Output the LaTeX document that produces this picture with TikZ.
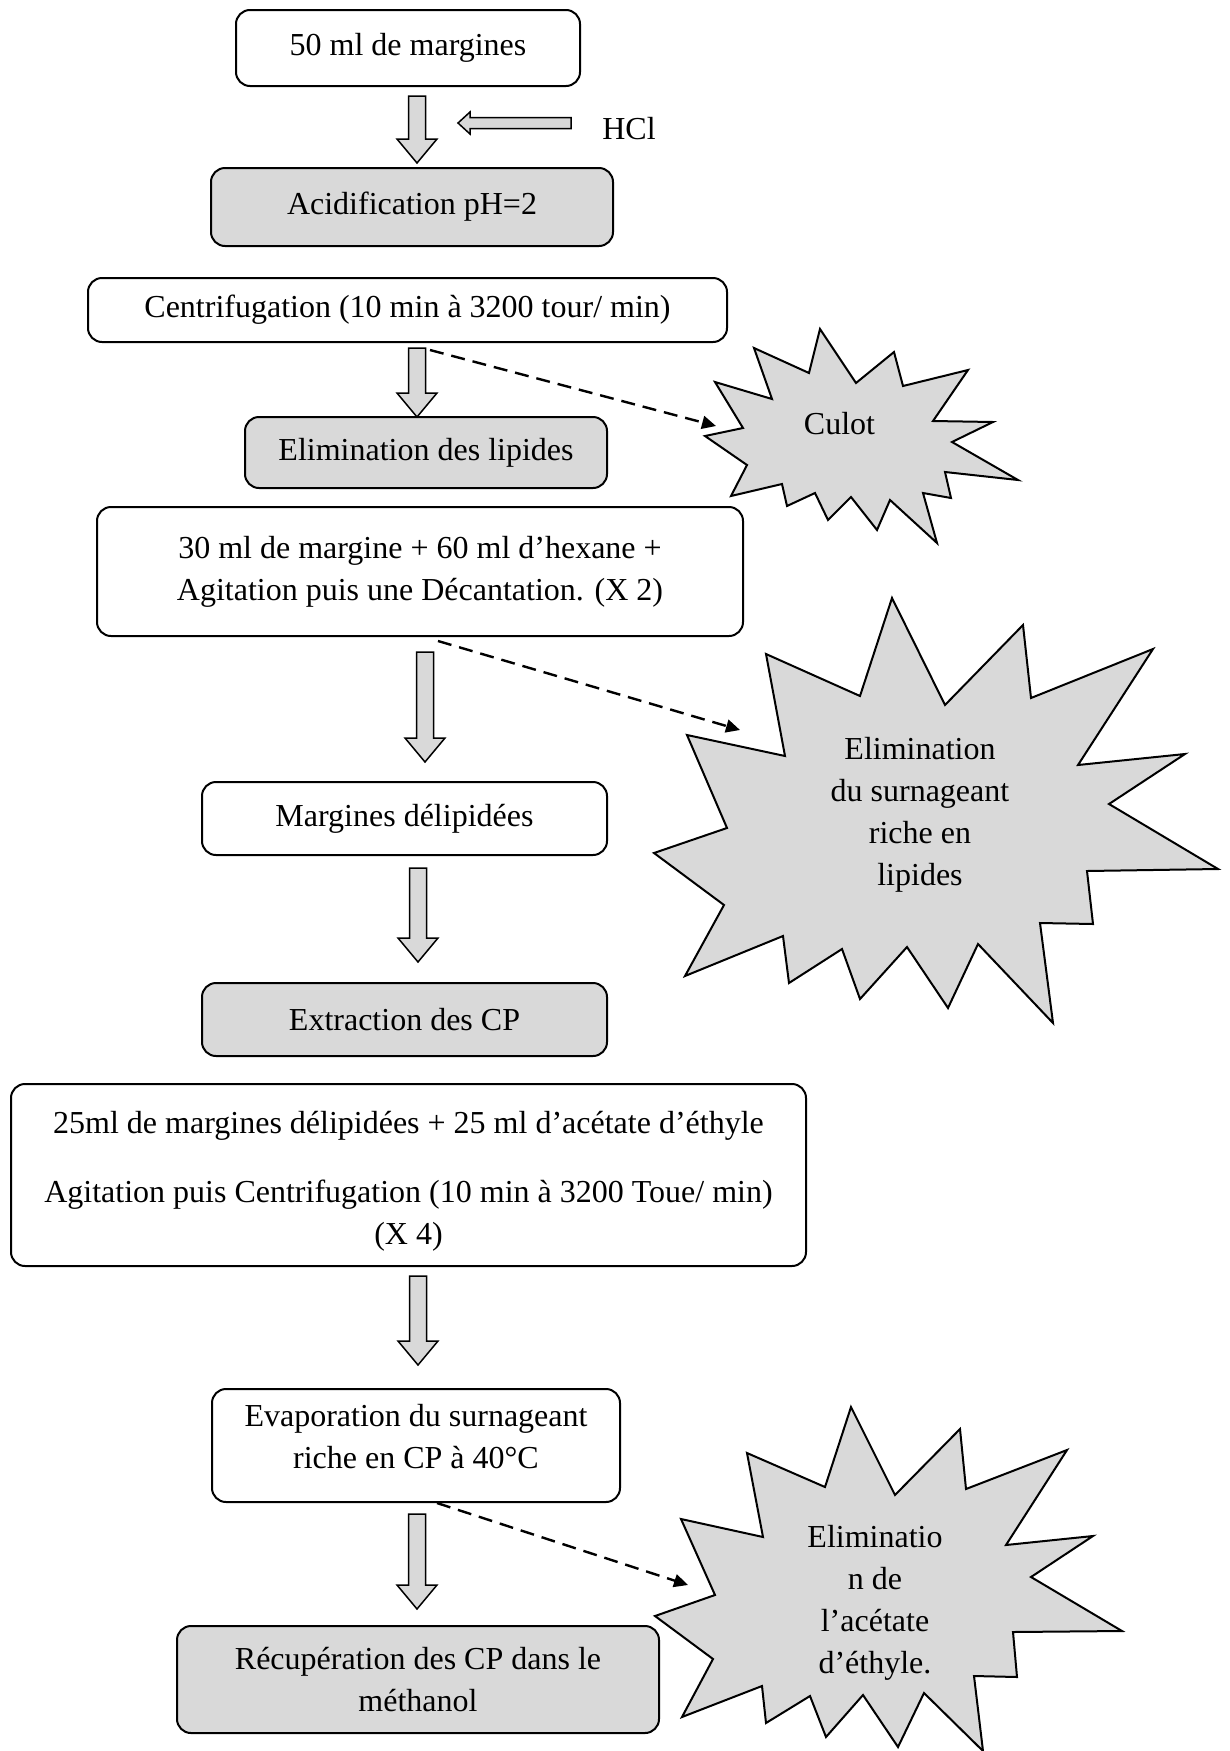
\documentclass[tikz,border=0pt]{standalone}
\usepackage{fontspec}
\setmainfont{Liberation Serif}
\usepackage{tikz}
\usetikzlibrary{arrows.meta}
\definecolor{shade}{RGB}{217,217,217}

\tikzset{
  pics/downarrow/.style={code={
    \draw[blockarrow] (-8.5,0) -- (8.5,0) -- (8.5,#1-24) -- (20,#1-24) -- (0,#1) -- (-20,#1-24) -- (-8.5,#1-24) -- cycle;
  }}
}

\begin{document}
\begin{tikzpicture}[x=0.5pt, y=-0.5pt,
  every node/.style={font=\fontsize{16}{21}\selectfont},
  whitebox/.style={draw, line width=1pt, rounded corners=7pt, inner sep=0pt, align=center},
  greybox/.style={whitebox, fill=shade},
  blockarrow/.style={draw, fill=shade, line width=0.75pt, line join=miter},
  burst/.style={draw, fill=shade, line width=1pt, line join=miter},
  dasharrow/.style={dash pattern=on 7pt off 4pt, line width=1.2pt, -{Triangle[length=7pt,width=6.5pt]}}]
\useasboundingbox (0,0) rectangle (1230,1751);

% steps
\node[whitebox, minimum width=172pt, minimum height=38pt] (start) at (408,48) {50 ml de margines};
\node[greybox, minimum width=201pt, minimum height=39pt] (acid) at (412,207) {Acidification pH=2};
\node[whitebox, minimum width=319.5pt, minimum height=32pt] (centri) at (407.5,310) {Centrifugation (10 min à 3200 tour/ min)};
\node[greybox, minimum width=181pt, minimum height=35.5pt] (lipid) at (426,452.5) {Elimination des lipides};
\node[whitebox, minimum width=323pt, minimum height=64.5pt] (hexane) at (420,571.5) {30 ml de margine + 60 ml d’hexane +\\Agitation puis une Décantation. (X 2)};
\node[whitebox, minimum width=202.5pt, minimum height=36.5pt] (delip) at (404.5,818.5) {Margines délipidées};
\node[greybox, minimum width=202.5pt, minimum height=36.5pt] (extract) at (404.5,1019.5) {Extraction des CP};
\node[whitebox, minimum width=397.5pt, minimum height=91pt, text height=72.4pt] (acetate) at (408.5,1175) {25ml de margines délipidées + 25 ml d’acétate d’éthyle\\[13.5pt]Agitation puis Centrifugation (10 min à 3200 Toue/ min)\\(X 4)};
\node[whitebox, minimum width=204pt, minimum height=56.5pt, text depth=9pt] (evap) at (416,1445.5) {Evaporation du surnageant\\riche en CP à 40°C};
\node[greybox, minimum width=241pt, minimum height=53.5pt] (recup) at (418,1679.5) {Récupération des CP dans le\\méthanol};

% hollow arrows
\pic at (417,96) {downarrow=67};
\pic at (417,348) {downarrow=69};
\pic at (425,652) {downarrow=110};
\pic at (418,868) {downarrow=94};
\pic at (418,1276) {downarrow=89};
\pic at (417,1514) {downarrow=95};
\draw[blockarrow] (571,117.5) -- (470,117.5) -- (470,112) -- (458,123) -- (470,134) -- (470,128.5) -- (571,128.5) -- cycle;
\node (hcl) at (629,129) {HCl};

% explosions
\draw[burst] (705,436) -- (743,428) -- (715,382) -- (772,399) -- (754,348) -- (809,373) -- (820,329) -- (856,383) -- (894,352) -- (903,386) -- (968,370) -- (933,421) -- (993,422) -- (952,442) -- (1018,480) -- (945,472) -- (951,498) -- (923,493) -- (937,543) -- (890,500) -- (877,530) -- (851,497) -- (828,520) -- (815,493) -- (787,506) -- (782,484) -- (731,496) -- (747,465) -- cycle;
\draw[burst] (892,598) -- (945,705) -- (1023,625) -- (1031,698) -- (1153,649) -- (1078,765) -- (1185,754) -- (1109,804) -- (1218,869) -- (1087,871) -- (1093,924) -- (1040,923) -- (1053,1023) -- (978,944) -- (948,1008) -- (907,947) -- (860,999) -- (842,949) -- (789,983) -- (783,936) -- (685,976) -- (724,905) -- (654,853) -- (727,828) -- (687,735) -- (785,756) -- (766,654) -- (860,696) -- cycle;
\draw[burst] (851,1407) -- (895,1495) -- (960,1429) -- (966,1489) -- (1067,1450) -- (1006,1545) -- (1093,1536) -- (1031,1577) -- (1122,1631) -- (1013,1632) -- (1017,1677) -- (974,1676) -- (983,1751) -- (924,1693) -- (898,1747) -- (863,1695) -- (826,1737) -- (810,1696) -- (766,1723) -- (762,1686) -- (682,1717) -- (713,1659) -- (655,1616) -- (715,1595) -- (681,1519) -- (763,1537) -- (747,1453) -- (825,1487) -- cycle;
\node (culot) at (839.5,424) {Culot};
\node[align=center] (surnag) at (920,815) {Elimination\\du surnageant\\riche en\\lipides};
\node[align=center] (acet) at (875,1603) {Eliminatio\\n de\\l’acétate\\d’éthyle.};

% dashed
\coordinate (d1s) at (430,350);
\coordinate (d1e) at (716,426);
\coordinate (d2s) at (438,641);
\coordinate (d2e) at (740,730);
\coordinate (d3s) at (437,1503);
\coordinate (d3e) at (688,1585);
\draw[dasharrow] (d1s) -- (d1e);
\draw[dasharrow] (d2s) -- (d2e);
\draw[dasharrow] (d3s) -- (d3e);
\end{tikzpicture}
\end{document}
